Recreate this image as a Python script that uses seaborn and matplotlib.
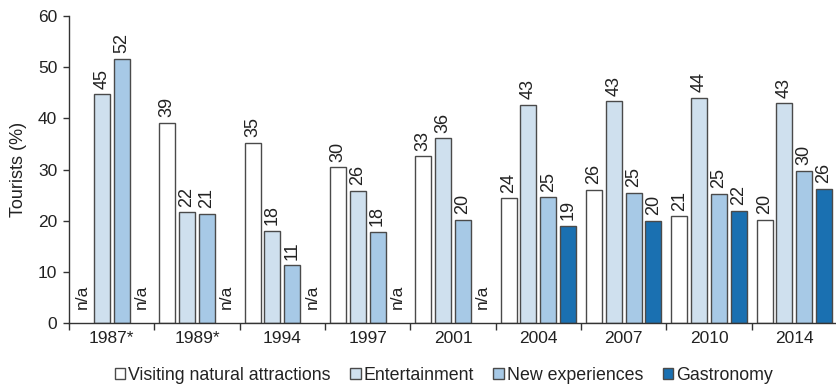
import matplotlib
matplotlib.use("Agg")
import matplotlib.pyplot as plt
import numpy as np
import pandas as pd
import seaborn as sns

# data (None = n/a)
years = ["1987*", "1989*", "1994", "1997", "2001", "2004", "2007", "2010", "2014"]
categories = [
    "Visiting natural attractions",
    "Entertainment",
    "New experiences",
    "Gastronomy",
]
nature = [None, 39.1, 35.2, 30.4, 32.6, 24.4, 26.0, 20.9, 20.2]
entertainment = [44.7, 21.6, 18.0, 25.8, 36.1, 42.6, 43.3, 44.0, 42.9]
new_experiences = [51.6, 21.3, 11.3, 17.8, 20.2, 24.6, 25.4, 25.3, 29.8]
gastronomy = [None, None, None, None, None, 19.0, 20.0, 21.9, 26.2]
colors = ["#ffffff", "#cfe0ee", "#a7c9e6", "#1a70b1"]

series = [nature, entertainment, new_experiences, gastronomy]
rows = []
for cat, vals in zip(categories, series):
    for year, v in zip(years, vals):
        rows.append({"year": year, "category": cat, "value": v})
df = pd.DataFrame(rows)
df["missing"] = df["value"].isna()
df["value"] = df["value"].fillna(0.0)

sns.set_theme(style="white")
plt.rcParams["font.family"] = ["Liberation Sans", "DejaVu Sans"]
text_color = "#222222"
fs = 12.5

fig, ax = plt.subplots(figsize=(8.37, 3.89), dpi=100)
fig.subplots_adjust(left=69 / 837, right=1.0, top=1 - 16 / 389, bottom=1 - 323 / 389)

sns.barplot(
    data=df,
    x="year",
    y="value",
    hue="category",
    order=years,
    hue_order=categories,
    palette=colors,
    errorbar=None,
    gap=0.2,
    width=0.93,
    edgecolor="#4a4a4a",
    linewidth=1.0,
    saturation=1,
    ax=ax,
)

for cat, container in zip(categories, ax.containers):
    sub = df[df["category"] == cat].set_index("year").loc[years]
    labels = []
    for bar, miss, v in zip(container, sub["missing"], sub["value"]):
        if miss:
            bar.set_visible(False)
            ax.annotate(
                "n/a",
                (bar.get_x() + bar.get_width() / 2, 0),
                xytext=(0, 10),
                textcoords="offset points",
                rotation=90,
                ha="center",
                va="bottom",
                fontsize=fs,
                color=text_color,
            )
            labels.append("")
        else:
            labels.append(f"{v:.0f}")
    ax.bar_label(container, labels=labels, padding=4, rotation=90,
                 fontsize=13, color=text_color)

ax.set_ylim(0, 60)
ax.set_xlim(-0.5, 8.5)
ax.set_yticks(range(0, 61, 10))
ax.set_xticks(np.arange(-0.5, 9.0, 1), minor=True)
ax.tick_params(axis="x", which="major", length=0, pad=5.5, labelsize=fs,
               labelcolor=text_color)
ax.tick_params(axis="x", which="minor", length=5, width=1, color="#333333",
               direction="out", bottom=True)
ax.tick_params(axis="y", length=4.5, width=1, color="#333333", direction="out",
               left=True, labelsize=fs, labelcolor=text_color, pad=4)
ax.set_xlabel("")
ax.set_ylabel("Tourists (%)", fontsize=13, color=text_color, labelpad=8)
sns.despine(ax=ax)
for side in ["left", "bottom"]:
    ax.spines[side].set_color("#333333")
    ax.spines[side].set_linewidth(1.0)

handles, labels = ax.get_legend_handles_labels()
ax.get_legend().remove()
fig.legend(
    handles,
    labels,
    loc="center",
    bbox_to_anchor=(0.53, 0.035),
    ncol=4,
    frameon=False,
    fontsize=12.8,
    handlelength=0.6,
    handleheight=0.6,
    handletextpad=0.15,
    columnspacing=1.1,
    labelcolor=text_color,
)

fig.savefig("out.png", dpi=100)
